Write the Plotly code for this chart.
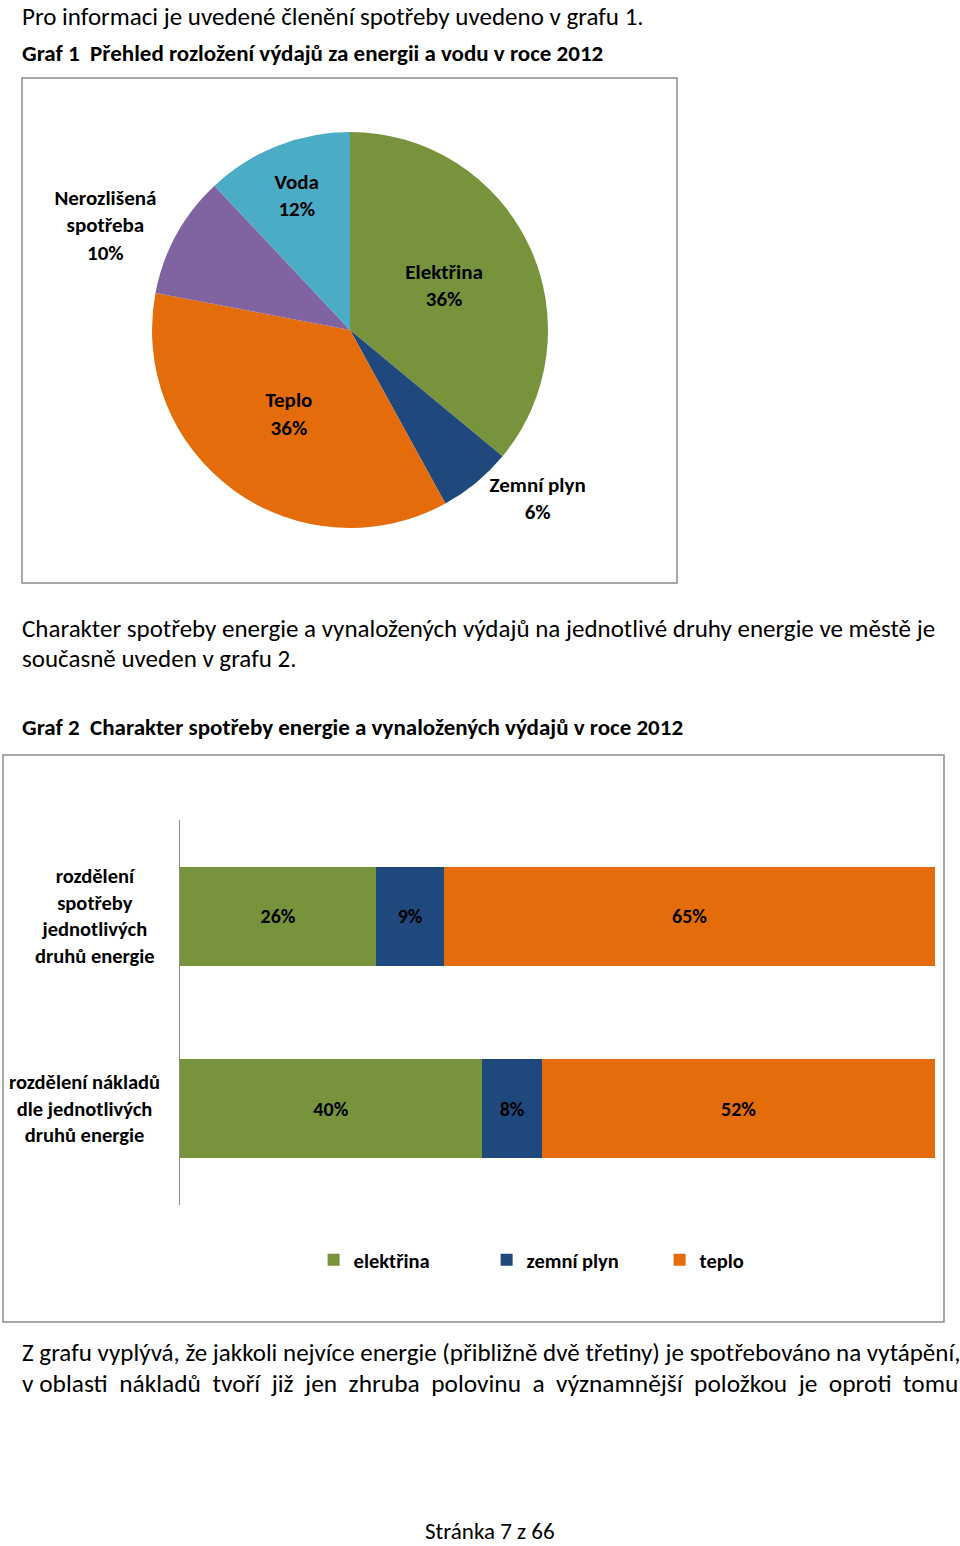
import plotly.graph_objects as go

# Graf 1 - pie
pie_labels = ["Elektřina", "Zemní plyn", "Teplo", "Nerozlišená<br>spotřeba", "Voda"]
pie_values = [36, 6, 36, 10, 12]
pie_colors = ["#77933C", "#1F497D", "#E46C0A", "#8064A2", "#4BACC6"]
pie_textpos = ["inside", "outside", "inside", "outside", "inside"]

# Graf 2 - stacked bars
bar_categories = ["rozdělení spotřeby jednotlivých druhů energie",
                  "rozdělení nákladů dle jednotlivých druhů energie"]
bar_ticktext = ["rozdělení<br>spotřeby<br>jednotlivých<br>druhů energie",
                "rozdělení nákladů<br>dle jednotlivých<br>druhů energie"]
series_names = ["elektřina", "zemní plyn", "teplo"]
series_values = [[26, 40], [9, 8], [65, 52]]
series_colors = ["#77933C", "#1F497D", "#E46C0A"]

FONT = "Carlito, Lato, sans-serif"
W, H = 960, 1546

fig = go.Figure()

fig.add_trace(go.Pie(
    labels=pie_labels, values=pie_values, sort=False, direction="clockwise", rotation=0,
    marker=dict(colors=pie_colors, line=dict(width=0)),
    textposition=pie_textpos, texttemplate="%{label}<br>%{percent:.0%}",
    textfont=dict(family=FONT, size=21, color="black", weight="bold"),
    insidetextorientation="horizontal", showlegend=False, hoverinfo="label+percent",
    domain=dict(x=[152 / W, 548 / W], y=[1 - 528 / H, 1 - 132 / H]),
))

for name, vals, col in zip(series_names, series_values, series_colors):
    fig.add_trace(go.Bar(
        y=bar_categories, x=vals, name=name, orientation="h",
        marker=dict(color=col, line=dict(width=0)),
        text=[f"{v}%" for v in vals], textposition="inside", insidetextanchor="middle",
        textfont=dict(family=FONT, size=20, color="black", weight="bold"),
        textangle=0,
    ))

fig.update_layout(
    width=W, height=H, margin=dict(l=0, r=0, t=0, b=0),
    paper_bgcolor="white", plot_bgcolor="white",
    barmode="stack", bargap=0.485,
    font=dict(family=FONT, size=20, color="black"),
    xaxis=dict(domain=[180 / W, 935 / W], range=[0, 100], visible=False, fixedrange=True),
    yaxis=dict(domain=[1 - 1205 / H, 1 - 820 / H], autorange="reversed",
               showticklabels=False, ticks="", showgrid=False,
               showline=True, linecolor="#8C8C8C", linewidth=1),
    legend=dict(orientation="h", x=0.597, xanchor="center", y=1 - 1260 / H, yanchor="middle",
                font=dict(family=FONT, size=20.5, weight="bold"),
                entrywidth=128, traceorder="normal"),
    showlegend=True,
)

# category labels, centered, at the axis category positions
for cat, txt, xc in zip(bar_categories, bar_ticktext, [95 / W, 84 / W]):
    fig.add_annotation(x=xc, xref="paper", y=cat, yref="y", text=txt, showarrow=False,
                       align="center", xanchor="center", yanchor="middle",
                       font=dict(family=FONT, size=20.5, weight="bold"))

# chart frames
fig.add_shape(type="rect", xref="paper", yref="paper", x0=22 / W, x1=677 / W,
              y0=1 - 583 / H, y1=1 - 78 / H, line=dict(color="#8C8C8C", width=1.5))
fig.add_shape(type="rect", xref="paper", yref="paper", x0=3 / W, x1=944 / W,
              y0=1 - 1322 / H, y1=1 - 755 / H, line=dict(color="#8C8C8C", width=1.5))

# document text
nb = "\u00a0"
gap = nb * 2
words = ["oblasti", "nákladů", "tvoří", "již", "jen", "zhruba", "polovinu", "a",
         "významnější", "položkou", "je", "oproti", "tomu"]
texts = [
    ("Pro informaci je uvedené členění spotřeby uvedeno v grafu 1.", 20, 16, "normal", 25, "left"),
    ("Graf 1" + nb * 2 + "Přehled rozložení výdajů za energii a vodu v roce 2012", 20, 53, "bold", 23, "left"),
    ("Charakter spotřeby energie a vynaložených výdajů na jednotlivé druhy energie ve městě je", 20, 628, "normal", 25, "left"),
    ("současně uveden v grafu 2.", 20, 658, "normal", 25, "left"),
    ("Graf 2" + nb * 2 + "Charakter spotřeby energie a vynaložených výdajů v roce 2012", 20, 727, "bold", 23, "left"),
    ("Z grafu vyplývá, že jakkoli nejvíce energie (přibližně dvě třetiny) je spotřebováno na vytápění,", 20, 1352, "normal", 25, "left"),
    ("v" + nb + gap.join(words), 20, 1383, "normal", 25.4, "left"),
    ("Stránka 7 z 66", 490, 1531, "normal", 23, "center"),
]
for txt, x, y, wt, sz, anchor in texts:
    fig.add_annotation(x=x / W, y=1 - y / H, xref="paper", yref="paper", text=txt, showarrow=False,
                       xanchor=anchor, yanchor="middle",
                       font=dict(family=FONT, size=sz, weight=wt, color="black"))

fig.write_html("out.html", config={"displayModeBar": False},
               post_script="document.body.style.margin='0';")
